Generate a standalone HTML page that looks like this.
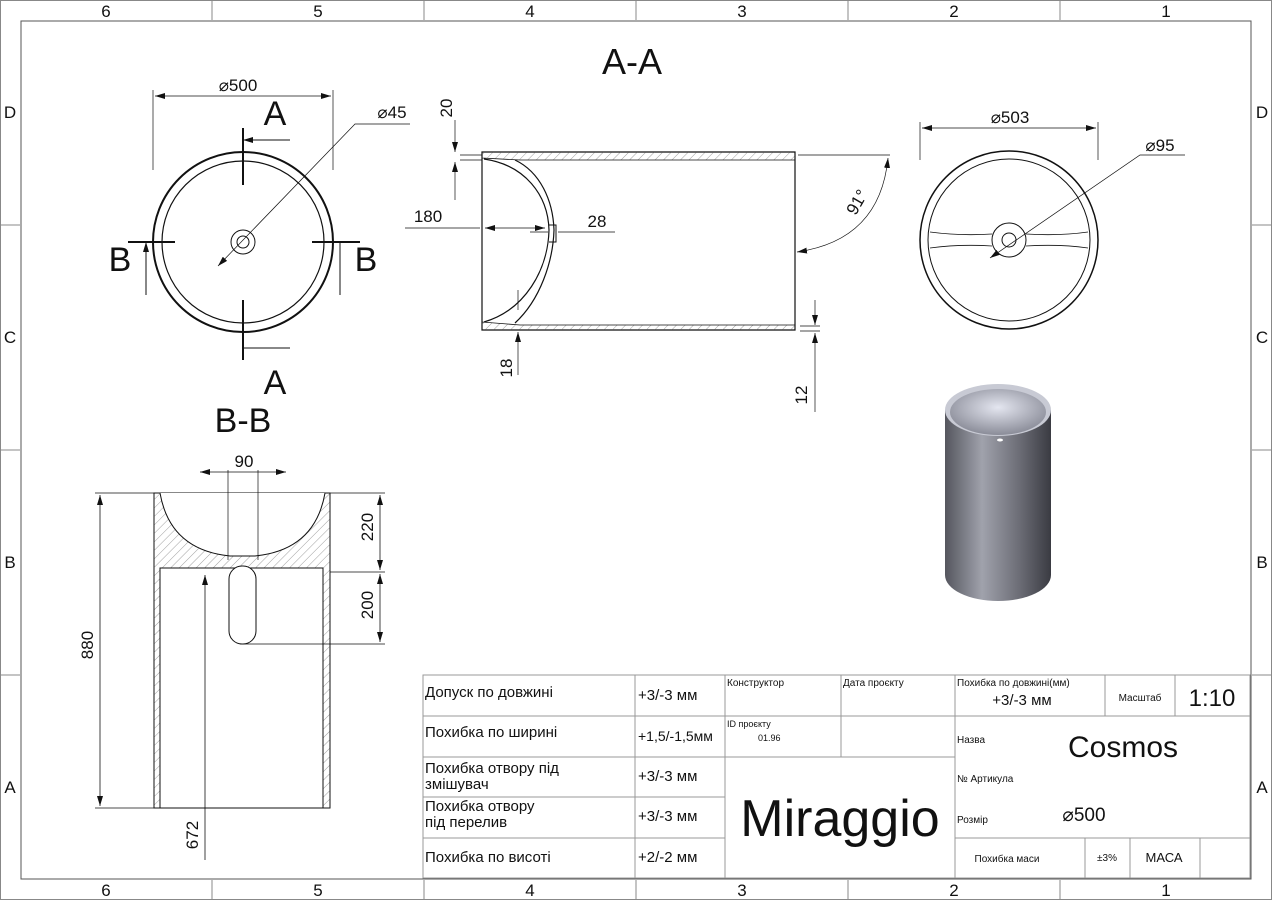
<!DOCTYPE html>
<html><head><meta charset="utf-8"><style>
html,body{margin:0;padding:0;background:#fff;width:1272px;height:900px;overflow:hidden}
svg{display:block}
text{font-family:"Liberation Sans",sans-serif;fill:#111}
.t{font-family:"DejaVu Sans Condensed","DejaVu Sans",sans-serif}
</style></head><body>
<svg width="1272" height="900" viewBox="0 0 1272 900" xmlns="http://www.w3.org/2000/svg">
<defs>
<pattern id="h" width="6" height="6" patternUnits="userSpaceOnUse" patternTransform="rotate(45)"><line x1="0" y1="0" x2="0" y2="6" stroke="#888" stroke-width="0.8"/></pattern>
<marker id="a" markerWidth="10" markerHeight="6" refX="10" refY="3" orient="auto-start-reverse" markerUnits="userSpaceOnUse"><path d="M0,0L10,3L0,6z" fill="#111"/></marker>
<radialGradient id="bowl" cx="0.5" cy="0.4" r="0.6"><stop offset="0" stop-color="#e4e6f0"/><stop offset="1" stop-color="#8a8c98"/></radialGradient>
<linearGradient id="cyl" x1="0" x2="1"><stop offset="0" stop-color="#55565e"/><stop offset="0.35" stop-color="#a0a2ac"/><stop offset="0.7" stop-color="#6c6d76"/><stop offset="1" stop-color="#3a3b42"/></linearGradient>
</defs>
<g stroke="#888" stroke-width="1" fill="none">
<rect x="0.5" y="0.5" width="1271" height="899"/>
<rect x="21" y="21" width="1230" height="858" stroke="#555"/>
<path d="M212 0V20M424 0V20M636 0V20M848 0V20M1060 0V20M212 880V900M424 880V900M636 880V900M848 880V900M1060 880V900M0 225H20M0 450H20M0 675H20M1252 225H1272M1252 450H1272M1252 675H1272"/>
</g>
<g font-size="17" text-anchor="middle">
<text x="106" y="17">6</text><text x="318" y="17">5</text><text x="530" y="17">4</text><text x="742" y="17">3</text><text x="954" y="17">2</text><text x="1166" y="17">1</text>
<text x="106" y="896">6</text><text x="318" y="896">5</text><text x="530" y="896">4</text><text x="742" y="896">3</text><text x="954" y="896">2</text><text x="1166" y="896">1</text>
<text x="10" y="118">D</text><text x="10" y="343">C</text><text x="10" y="568">B</text><text x="10" y="793">A</text>
<text x="1262" y="118">D</text><text x="1262" y="343">C</text><text x="1262" y="568">B</text><text x="1262" y="793">A</text>
</g>

<g stroke="#111" fill="none">
<circle cx="243" cy="242" r="90" stroke-width="2"/>
<circle cx="243" cy="242" r="81" stroke-width="1.2"/>
<circle cx="243" cy="242" r="12" stroke-width="1"/>
<circle cx="243" cy="242" r="6" stroke-width="1"/>
<path d="M153 90V170M333 90V170" stroke-width="0.7"/>
<path d="M155 96H331" stroke-width="0.8" marker-start="url(#a)" marker-end="url(#a)"/>
<path d="M218 266L355 124H410" stroke-width="0.7" marker-start="url(#a)"/>
<path d="M243 128V185M243 300V360M128 242H175M312 242H360" stroke-width="2"/>
<path d="M243 140H290M243 348H290" stroke-width="1" marker-start="url(#a)"/>
<path d="M146 242V295M340 242V295" stroke-width="1" marker-start="url(#a)"/>
</g>
<text x="238" y="91" font-size="17" text-anchor="middle">⌀500</text>
<text x="392" y="118" font-size="17" text-anchor="middle">⌀45</text>
<text x="275" y="125" font-size="34" text-anchor="middle">A</text>
<text x="275" y="394" font-size="34" text-anchor="middle">A</text>
<text x="120" y="271" font-size="34" text-anchor="middle">B</text>
<text x="366" y="271" font-size="34" text-anchor="middle">B</text>
<text x="632" y="74" font-size="36" text-anchor="middle">A-A</text>
<text x="243" y="432" font-size="34" text-anchor="middle">B-B</text>

<g stroke="#111" fill="none" stroke-width="1.2">
<path d="M482 152H795V330H482Z" fill="none"/>
<path d="M482 152H795V160H520L482 158Z" fill="url(#h)" stroke-width="0.8"/>
<path d="M482 330H795V325H520L482 322Z" fill="url(#h)" stroke-width="0.8"/>
<path d="M484 159C525 165 548 195 549 230C548 270 525 310 484 322"/>
<path d="M515 160C540 172 553 200 554 230C553 262 540 300 515 323"/>
<path d="M549 225H556V242H549" stroke-width="1"/>
<path d="M460 155H482M460 160H482" stroke-width="0.7"/>
<path d="M455 120V152" marker-end="url(#a)" stroke-width="0.7"/>
<path d="M455 200V162" marker-end="url(#a)" stroke-width="0.7"/>
<path d="M405 228H480" stroke-width="0.7"/>
<path d="M485 228H545" stroke-width="0.7" marker-start="url(#a)" marker-end="url(#a)"/>
<path d="M530 232H548M558 232H615" stroke-width="0.7"/>
<path d="M518 290V310" stroke-width="0.7"/>
<path d="M518 375V332" stroke-width="0.7" marker-end="url(#a)"/>
<path d="M798 155H890M800 326H820M800 331H820" stroke-width="0.7"/>
<path d="M815 300V325" stroke-width="0.7" marker-end="url(#a)"/>
<path d="M815 412V333" stroke-width="0.7" marker-end="url(#a)"/>
<path d="M888 158Q880 240 797 252" stroke-width="0.7" marker-start="url(#a)" marker-end="url(#a)"/>
</g>
<text x="452" y="108" font-size="17" transform="rotate(-90 452 108)" text-anchor="middle">20</text>
<text x="428" y="222" font-size="17" text-anchor="middle">180</text>
<text x="597" y="227" font-size="17" text-anchor="middle">28</text>
<text x="512" y="368" font-size="17" transform="rotate(-90 512 368)" text-anchor="middle">18</text>
<text x="807" y="395" font-size="17" transform="rotate(-90 807 395)" text-anchor="middle">12</text>
<text x="862" y="205" font-size="17" transform="rotate(-60 862 205)" text-anchor="middle">91°</text>

<g stroke="#111" fill="none">
<circle cx="1009" cy="240" r="89" stroke-width="1.5"/>
<circle cx="1009" cy="240" r="81" stroke-width="1"/>
<circle cx="1009" cy="240" r="17" stroke-width="1"/>
<circle cx="1009" cy="240" r="7" stroke-width="1"/>
<path d="M930 232Q960 236 992 234M930 248Q960 244 992 246M1026 234Q1060 236 1088 232M1026 246Q1060 244 1088 248" stroke-width="0.8"/>
<path d="M920 122V160M1098 122V160" stroke-width="0.7"/>
<path d="M922 128H1096" stroke-width="0.8" marker-start="url(#a)" marker-end="url(#a)"/>
<path d="M990 258L1140 155H1185" stroke-width="0.7" marker-start="url(#a)"/>
</g>
<text x="1010" y="123" font-size="17" text-anchor="middle">⌀503</text>
<text x="1160" y="151" font-size="17" text-anchor="middle">⌀95</text>

<path d="M945 410V575A53 26 0 0 0 1051 575V410Z" fill="url(#cyl)"/>
<ellipse cx="998" cy="410" rx="53" ry="26" fill="#c8cad4"/>
<ellipse cx="998" cy="412" rx="48" ry="23" fill="url(#bowl)"/>
<ellipse cx="1000" cy="440" rx="3" ry="1.5" fill="#fff"/>

<g stroke="#111" fill="none" stroke-width="1">
<path d="M154 493H330V808H154Z"/>
<path d="M154 493H330V808H323V568H160V808H154Z" fill="url(#h)" stroke-width="0.8"/>
<path d="M160 493Q170 550 230 556H255Q315 550 325 493" fill="#fff"/>
<path d="M160 808V568H323V808"/>
<rect x="229" y="566" width="27" height="78" rx="13" fill="#fff"/>
<path d="M95 493H154M95 808H154M228 470V560M258 470V560M330 493H385M330 572H385M240 644H385" stroke-width="0.7"/>
<path d="M200 472H286" stroke-width="0.7" marker-start="url(#a)" marker-end="url(#a)"/>
<path d="M100 495V806" stroke-width="0.8" marker-start="url(#a)" marker-end="url(#a)"/>
<path d="M380 495V570" stroke-width="0.8" marker-start="url(#a)" marker-end="url(#a)"/>
<path d="M380 574V642" stroke-width="0.8" marker-start="url(#a)" marker-end="url(#a)"/>
<path d="M205 575V860" stroke-width="0.8" marker-start="url(#a)"/>
</g>
<text x="244" y="467" font-size="17" text-anchor="middle">90</text>
<text x="93" y="645" font-size="17" transform="rotate(-90 93 645)" text-anchor="middle">880</text>
<text x="373" y="527" font-size="17" transform="rotate(-90 373 527)" text-anchor="middle">220</text>
<text x="373" y="605" font-size="17" transform="rotate(-90 373 605)" text-anchor="middle">200</text>
<text x="198" y="835" font-size="17" transform="rotate(-90 198 835)" text-anchor="middle">672</text>

<g stroke="#999" fill="none" stroke-width="1">
<rect x="423" y="675" width="827" height="203" fill="#fff"/>
<path d="M423 716H955M423 757H725M423 797H725M423 838H725M635 675V878M725 675V878M841 675V757M725 757H955M955 675V878M1105 675V716M1175 675V716M955 716H1250M955 838H1250M1085 838V878M1130 838V878M1200 838V878"/>
</g>
<g class="t">
<text x="425" y="697" font-size="15">Допуск по довжині</text>
<text x="425" y="737" font-size="15">Похибка по ширині</text>
<text x="425" y="773" font-size="15">Похибка отвору під</text>
<text x="425" y="789" font-size="15">змішувач</text>
<text x="425" y="811" font-size="15">Похибка отвору</text>
<text x="425" y="827" font-size="15">під перелив</text>
<text x="425" y="862" font-size="15">Похибка по висоті</text>
<text x="638" y="700" font-size="15">+3/-3 мм</text>
<text x="638" y="741" font-size="14">+1,5/-1,5мм</text>
<text x="638" y="781" font-size="15">+3/-3 мм</text>
<text x="638" y="821" font-size="15">+3/-3 мм</text>
<text x="638" y="862" font-size="15">+2/-2 мм</text>
<text x="727" y="686" font-size="10">Конструктор</text>
<text x="843" y="686" font-size="10">Дата проєкту</text>
<text x="727" y="727" font-size="9">ID проєкту</text>
<text x="758" y="741" font-size="9">01.96</text>
<text x="840" y="836" font-size="52" text-anchor="middle">Miraggio</text>
<text x="957" y="686" font-size="10">Похибка по довжині(мм)</text>
<text x="1022" y="705" font-size="15" text-anchor="middle">+3/-3 мм</text>
<text x="1140" y="701" font-size="10" text-anchor="middle">Масштаб</text>
<text x="1212" y="706" font-size="24" text-anchor="middle">1:10</text>
<text x="957" y="743" font-size="10">Назва</text>
<text x="1123" y="757" font-size="30" text-anchor="middle">Cosmos</text>
<text x="957" y="782" font-size="10">№ Артикула</text>
<text x="957" y="823" font-size="10">Розмір</text>
<text x="1084" y="821" font-size="19" text-anchor="middle">⌀500</text>
<text x="1007" y="862" font-size="10" text-anchor="middle">Похибка маси</text>
<text x="1107" y="861" font-size="10" text-anchor="middle">±3%</text>
<text x="1164" y="862" font-size="13" text-anchor="middle">МАСА</text>
</g>
</svg>
</body></html>
